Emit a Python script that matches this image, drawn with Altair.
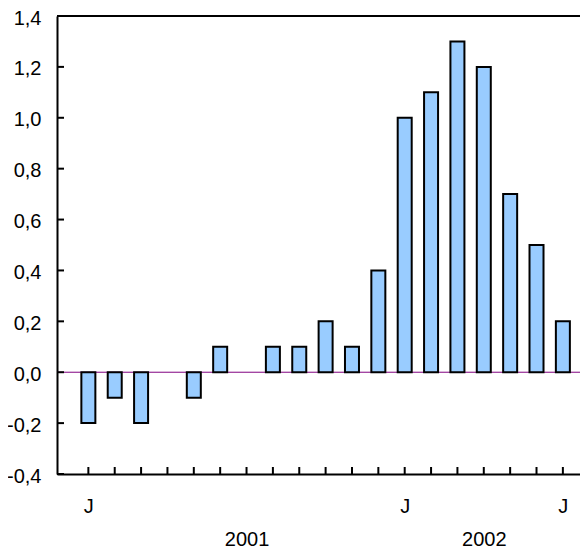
import altair as alt
import pandas as pd

# Monthly data, Jan 2001 .. Jul 2002
months = ["2001-01", "2001-02", "2001-03", "2001-04", "2001-05", "2001-06",
          "2001-07", "2001-08", "2001-09", "2001-10", "2001-11", "2001-12",
          "2002-01", "2002-02", "2002-03", "2002-04", "2002-05", "2002-06",
          "2002-07"]
values = [-0.2, -0.1, -0.2, 0.0, -0.1, 0.1, 0.0, 0.1, 0.1, 0.2, 0.1, 0.4,
          1.0, 1.1, 1.3, 1.2, 0.7, 0.5, 0.2]

# Axis label data
month_label_idx = [0, 12, 18]
month_label_text = ["J", "J", "J"]
year_label_idx = [6, 15]
year_label_text = ["2001", "2002"]
y_ticks = [-0.4, -0.2, 0.0, 0.2, 0.4, 0.6, 0.8, 1.0, 1.2, 1.4]

df = pd.DataFrame({"month": months, "i": list(range(len(months))), "value": values})
ticks_df = pd.DataFrame({"i": list(range(len(months)))})
yt_df = pd.DataFrame({"v": y_ticks})

FONT = "Liberation Sans"
FS = 20

def label_expr(idx, txt):
    parts = " : ".join(f"datum.value == {k} ? '{t}'" for k, t in zip(idx, txt))
    return parts + " : ''"

xscale = alt.Scale(domain=[-1, 18.46], nice=False, zero=False)
yscale = alt.Scale(domain=[-0.4, 1.4], nice=False, zero=False)

y_axis = alt.Axis(values=y_ticks, ticks=False, grid=False, title=None,
                  labelExpr="replace(replace(format(datum.value, '.1f'), '.', ','), '\u2212', '-')")

bars = alt.Chart(df).transform_filter("datum.value != 0").mark_bar(
    size=14, color="#99CCFF", stroke="black", strokeWidth=2
).encode(
    x=alt.X("i:Q", scale=xscale,
            axis=alt.Axis(orient="bottom", values=month_label_idx,
                          labelExpr=label_expr(month_label_idx, month_label_text),
                          ticks=False, tickSize=0, grid=False, title=None,
                          domainColor="black", domainWidth=2, labelColor="black",
                          labelFont=FONT, labelFontSize=FS, labelPadding=22)),
    y=alt.Y("value:Q", scale=yscale, axis=y_axis),
)

zero = alt.Chart(df).mark_rule(color="#800080", strokeWidth=1).encode(
    y=alt.Y("z:Q", scale=yscale, axis=y_axis)
).transform_calculate(z="0").transform_filter("datum.i == 0")

xticks = alt.Chart(ticks_df).mark_rule(color="black", strokeWidth=2, y2Offset=-7).encode(
    x=alt.X("i:Q", scale=xscale,
            axis=alt.Axis(orient="bottom", values=year_label_idx,
                          labelExpr=label_expr(year_label_idx, year_label_text),
                          ticks=False, tickSize=0, domain=False, grid=False, title=None,
                          labelColor="black", labelFont=FONT, labelFontSize=FS, labelPadding=55)),
    y=alt.Y("b:Q", scale=yscale, axis=y_axis),
    y2="b:Q",
).transform_calculate(b="-0.4")

yticks = alt.Chart(yt_df).mark_rule(color="black", strokeWidth=2).encode(
    x=alt.value(0), x2=alt.value(7),
    y=alt.Y("v:Q", scale=yscale, axis=y_axis),
)

top = alt.Chart(yt_df).mark_rule(color="black", strokeWidth=2).encode(
    y=alt.Y("v:Q", scale=yscale, axis=y_axis)
).transform_filter("datum.v == 1.4")

chart = alt.layer(zero, bars, xticks, yticks, top).resolve_axis(x="independent").properties(
    width=523, height=458,
    autosize=alt.AutoSizeParams(type="none"),
    padding={"left": 49, "top": 8, "right": 0, "bottom": 74},
    background="white",
).configure_view(stroke=None).configure_axisY(
    labelPadding=16, labelOffset=2, ticks=False, tickSize=0,
    domainColor="black", domainWidth=2, labelColor="black",
    labelFont=FONT, labelFontSize=FS,
)

chart.save("out.html", embed_options={"renderer": "svg", "actions": False})
